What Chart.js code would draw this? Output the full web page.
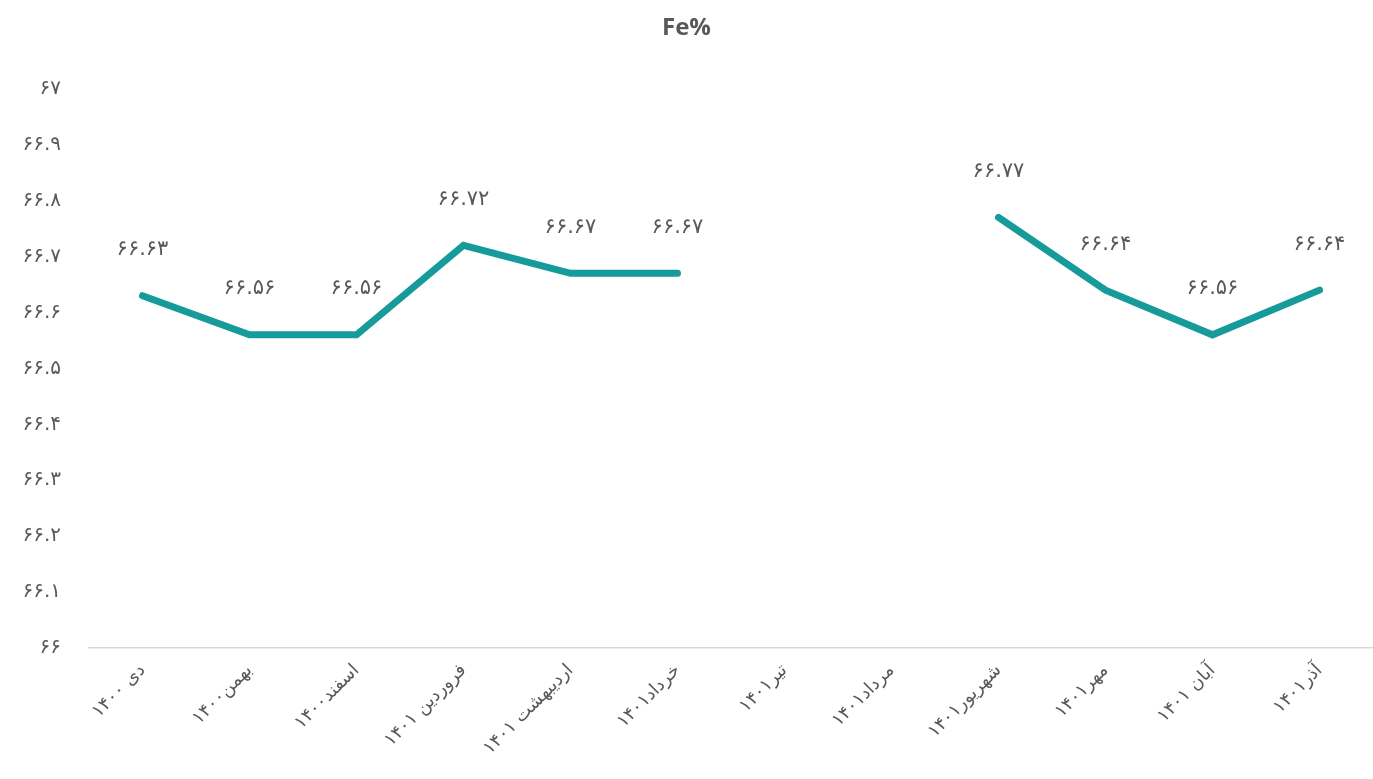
<!DOCTYPE html>
<html>
<head>
<meta charset="utf-8">
<script src="https://cdn.jsdelivr.net/npm/chart.js@4.4.1/dist/chart.umd.min.js"></script>
<style>
  html, body { margin: 0; padding: 0; background: #ffffff; }
  #wrap { width: 1373px; height: 779px; position: relative; }
</style>
</head>
<body>
<div id="wrap"><canvas id="c"></canvas></div>
<script>
const titleText = 'Fe%';
const months = [
  'دی ۱۴۰۰', 'بهمن۱۴۰۰', 'اسفند۱۴۰۰', 'فروردین ۱۴۰۱', 'اردیبهشت ۱۴۰۱', 'خرداد۱۴۰۱',
  'تیر۱۴۰۱', 'مرداد۱۴۰۱', 'شهریور۱۴۰۱', 'مهر۱۴۰۱', 'آبان ۱۴۰۱', 'آذر۱۴۰۱'
];
const feValues = [66.63, 66.56, 66.56, 66.72, 66.67, 66.67, null, null, 66.77, 66.64, 66.56, 66.64];
const yMin = 66;
const yMax = 67;
const yStep = 0.1;

const faDigits = ['۰','۱','۲','۳','۴','۵','۶','۷','۸','۹'];
function toFa(s) { return String(s).replace(/[0-9]/g, d => faDigits[+d]); }

const textColor = '#595959';
const persianFont = "'DejaVu Sans', sans-serif";

const pointLabels = {
  id: 'pointLabels',
  afterDatasetsDraw(chart) {
    const ctx = chart.ctx;
    const meta = chart.getDatasetMeta(0);
    ctx.save();
    ctx.font = '21px ' + persianFont;
    ctx.fillStyle = textColor;
    ctx.textAlign = 'center';
    ctx.textBaseline = 'middle';
    meta.data.forEach((pt, i) => {
      const v = feValues[i];
      if (v === null || v === undefined) return;
      ctx.fillText(toFa(v.toFixed(2)), pt.x, pt.y - 46);
    });
    ctx.restore();
  }
};

new Chart(document.getElementById('c'), {
  type: 'line',
  data: {
    labels: months,
    datasets: [{
      label: titleText,
      data: feValues,
      borderColor: '#169a9a',
      borderWidth: 7,
      pointRadius: 0,
      pointHoverRadius: 0,
      tension: 0,
      spanGaps: false,
      borderJoinStyle: 'miter',
      borderCapStyle: 'round'
    }]
  },
  options: {
    responsive: true,
    maintainAspectRatio: false,
    animation: false,
    layout: { padding: { left: 0, right: 0, top: 10, bottom: 0 } },
    plugins: {
      legend: { display: false },
      tooltip: { enabled: false },
      title: {
        display: true,
        text: titleText,
        color: textColor,
        font: { family: "'Open Sans', sans-serif", size: 24, weight: 'bold' },
        padding: { top: 4, bottom: 46 }
      }
    },
    scales: {
      x: {
        offset: true,
        grid: { display: false, drawTicks: false },
        border: { display: true, color: '#d9d9d9', width: 1.5 },
        ticks: {
          color: textColor,
          font: { family: persianFont, size: 18 },
          minRotation: 45,
          maxRotation: 45,
          padding: 12,
          autoSkip: false
        },
        afterFit(scale) { scale.height = 131; }
      },
      y: {
        min: yMin,
        max: yMax,
        grid: { display: false, drawTicks: false },
        border: { display: false },
        ticks: {
          stepSize: yStep,
          color: textColor,
          font: { family: persianFont, size: 20 },
          padding: 28,
          callback: (v) => toFa(String(Number(v.toFixed(1))))
        },
        afterFit(scale) { scale.width = 89; }
      }
    }
  },
  plugins: [pointLabels]
});
</script>
</body>
</html>
